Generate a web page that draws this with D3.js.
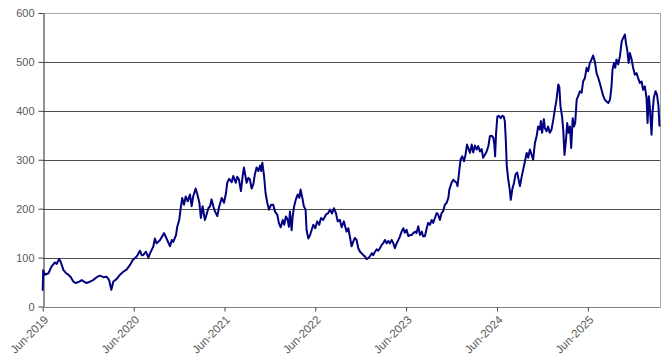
<!DOCTYPE html>
<html>
<head>
<meta charset="utf-8">
<script src="https://cdn.jsdelivr.net/npm/d3@7"></script>
<style>
  body { margin: 0; background: #fff; }
  svg { display: block; font-family: "Open Sans", "DejaVu Sans", sans-serif; }
</style>
</head>
<body>
<svg width="668" height="362"></svg>
<script>
// price series, split by year
var prices2019 = [
  ["2019-06-01",32],["2019-06-03",74],["2019-06-10",65],["2019-06-24",68],["2019-07-07",82],["2019-07-20",90],
  ["2019-07-27",87],["2019-08-06",97],["2019-08-12",92],["2019-08-23",75],["2019-09-03",68],["2019-09-12",65],
  ["2019-09-22",60],["2019-10-02",51],["2019-10-13",48],["2019-10-26",51],["2019-11-05",54],["2019-11-14",51],
  ["2019-11-25",48],["2019-12-08",51],["2019-12-21",54]
];
var prices2020 = [
  ["2020-01-04",60],["2020-01-17",63],["2020-01-31",60],["2020-02-13",61],["2020-02-23",54],["2020-03-03",34],
  ["2020-03-11",51],["2020-03-24",56],["2020-04-07",65],["2020-04-20",71],["2020-05-04",76],["2020-05-17",85],
  ["2020-05-28",95],["2020-06-13",102],["2020-06-26",114],["2020-07-03",105],["2020-07-09",105],["2020-07-20",112],
  ["2020-07-30",100],["2020-08-05",108],["2020-08-19",123],["2020-08-25",139],["2020-09-01",129],["2020-09-15",136],
  ["2020-10-01",150],["2020-10-11",139],["2020-10-25",123],["2020-11-01",136],["2020-11-07",132],["2020-11-18",146],
  ["2020-11-23",163],["2020-12-01",177],["2020-12-07",201],["2020-12-13",222],["2020-12-20",208],["2020-12-27",225]
];
var prices2021 = [
  ["2021-01-04",215],["2021-01-13",229],["2021-01-20",205],["2021-01-26",225],["2021-02-05",241],["2021-02-12",229],
  ["2021-02-20",212],["2021-02-26",181],["2021-03-05",205],["2021-03-14",177],["2021-03-21",188],["2021-03-28",201],
  ["2021-04-04",205],["2021-04-10",219],["2021-04-17",205],["2021-04-24",194],["2021-05-03",185],["2021-05-11",205],
  ["2021-05-21",222],["2021-05-30",212],["2021-06-07",232],["2021-06-12",253],["2021-06-20",261],["2021-06-30",254],
  ["2021-07-06",267],["2021-07-16",253],["2021-07-22",265],["2021-07-29",260],["2021-08-06",236],["2021-08-13",267],
  ["2021-08-18",284],["2021-08-22",273],["2021-08-29",253],["2021-09-05",263],["2021-09-11",260],["2021-09-18",241],
  ["2021-09-25",250],["2021-10-01",270],["2021-10-08",284],["2021-10-15",277],["2021-10-22",288],["2021-10-26",277],
  ["2021-10-31",294],["2021-11-07",267],["2021-11-13",232],["2021-11-20",212],["2021-11-27",198],["2021-12-05",208],
  ["2021-12-14",208],["2021-12-21",194],["2021-12-30",188]
];
var prices2022 = [
  ["2022-01-06",170],["2022-01-13",162],["2022-01-21",177],["2022-01-27",167],["2022-02-03",184],["2022-02-10",177],
  ["2022-02-15",163],["2022-02-19",194],["2022-02-26",156],["2022-03-02",184],["2022-03-08",205],["2022-03-15",219],
  ["2022-03-22",229],["2022-03-29",222],["2022-04-03",239],["2022-04-10",222],["2022-04-16",205],["2022-04-23",198],
  ["2022-04-27",156],["2022-05-04",139],["2022-05-11",146],["2022-05-17",156],["2022-05-24",167],["2022-06-01",160],
  ["2022-06-09",174],["2022-06-17",167],["2022-06-24",181],["2022-07-03",177],["2022-07-14",188],["2022-07-23",191],
  ["2022-07-30",198],["2022-08-07",190],["2022-08-15",201],["2022-08-23",191],["2022-08-30",174],["2022-09-08",177],
  ["2022-09-15",162],["2022-09-24",174],["2022-10-05",153],["2022-10-12",160],["2022-10-18",143],["2022-10-25",123],
  ["2022-11-01",133],["2022-11-07",140],["2022-11-14",136],["2022-11-21",119],["2022-11-28",112],["2022-12-04",109],
  ["2022-12-11",105],["2022-12-18",102],["2022-12-24",97],["2022-12-31",99]
];
var prices2023 = [
  ["2023-01-07",103],["2023-01-14",109],["2023-01-20",105],["2023-01-27",112],["2023-02-03",117],["2023-02-09",114],
  ["2023-02-16",119],["2023-02-23",126],["2023-03-01",129],["2023-03-08",136],["2023-03-15",129],["2023-03-22",134],
  ["2023-03-28",129],["2023-04-04",136],["2023-04-11",129],["2023-04-17",119],["2023-04-24",129],["2023-05-01",136],
  ["2023-05-07",143],["2023-05-14",153],["2023-05-21",160],["2023-05-27",151],["2023-06-03",157],["2023-06-10",144],
  ["2023-06-17",146],["2023-06-23",146],["2023-06-30",150],["2023-07-07",153],["2023-07-13",150],["2023-07-20",164],
  ["2023-07-27",146],["2023-08-03",153],["2023-08-09",143],["2023-08-16",144],["2023-08-23",160],["2023-08-29",171],
  ["2023-09-05",167],["2023-09-12",177],["2023-09-18",171],["2023-09-25",181],["2023-10-02",191],["2023-10-08",188],
  ["2023-10-15",177],["2023-10-22",191],["2023-10-28",195],["2023-11-04",208],["2023-11-11",212],["2023-11-18",222],
  ["2023-11-22",239],["2023-12-01",253],["2023-12-08",259],["2023-12-14",256],["2023-12-21",253],["2023-12-25",246],
  ["2023-12-31",273]
];
var prices2024 = [
  ["2024-01-06",300],["2024-01-13",307],["2024-01-20",297],["2024-01-26",310],["2024-02-01",331],["2024-02-06",324],
  ["2024-02-13",314],["2024-02-20",331],["2024-02-26",315],["2024-03-04",329],["2024-03-11",321],["2024-03-17",328],
  ["2024-03-24",317],["2024-03-31",322],["2024-04-06",304],["2024-04-13",310],["2024-04-20",317],["2024-04-27",328],
  ["2024-05-03",348],["2024-05-10",349],["2024-05-17",345],["2024-05-21",331],["2024-05-24",307],["2024-05-28",355],
  ["2024-06-02",388],["2024-06-08",390],["2024-06-15",385],["2024-06-22",390],["2024-06-28",388],["2024-07-02",379],
  ["2024-07-06",341],["2024-07-10",287],["2024-07-16",259],["2024-07-22",239],["2024-07-26",218],["2024-08-01",239],
  ["2024-08-08",253],["2024-08-14",270],["2024-08-21",274],["2024-08-25",263],["2024-09-01",246],["2024-09-08",266],
  ["2024-09-14",280],["2024-09-21",297],["2024-09-28",314],["2024-10-04",304],["2024-10-11",321],["2024-10-18",310],
  ["2024-10-24",300],["2024-10-31",334],["2024-11-07",348],["2024-11-13",368],["2024-11-20",362],["2024-11-24",379],
  ["2024-11-29",355],["2024-12-06",383],["2024-12-10",365],["2024-12-17",358],["2024-12-23",368],["2024-12-30",355]
];
var prices2025 = [
  ["2025-01-06",362],["2025-01-13",382],["2025-01-19",402],["2025-01-26",423],["2025-02-02",454],["2025-02-06",450],
  ["2025-02-11",409],["2025-02-17",389],["2025-02-22",361],["2025-02-27",310],["2025-03-05",341],["2025-03-10",375],
  ["2025-03-15",355],["2025-03-21",368],["2025-03-26",324],["2025-04-01",385],["2025-04-06",368],["2025-04-11",375],
  ["2025-04-17",423],["2025-04-23",430],["2025-04-30",440],["2025-05-07",437],["2025-05-13",460],["2025-05-20",467],
  ["2025-05-27",488],["2025-06-02",481],["2025-06-09",498],["2025-06-16",505],["2025-06-22",513],["2025-06-29",501],
  ["2025-07-06",477],["2025-07-13",467],["2025-07-19",457],["2025-07-26",443],["2025-08-02",430],["2025-08-08",423],
  ["2025-08-15",419],["2025-08-22",416],["2025-08-29",423],["2025-09-04",450],["2025-09-08",484],["2025-09-14",498],
  ["2025-09-19",488],["2025-09-24",505],["2025-10-01",495],["2025-10-08",512],["2025-10-15",542],["2025-10-21",549],
  ["2025-10-28",556],["2025-11-01",539],["2025-11-06",525],["2025-11-12",498],["2025-11-17",518],["2025-11-24",505],
  ["2025-11-30",488],["2025-12-07",474],["2025-12-14",477],["2025-12-20",467],["2025-12-27",457]
];
var prices2026 = [
  ["2026-01-03",460],["2026-01-09",443],["2026-01-16",450],["2026-01-23",426],["2026-01-27",375],["2026-02-01",430],
  ["2026-02-05",409],["2026-02-12",351],["2026-02-16",396],["2026-02-21",426],["2026-02-28",440],["2026-03-06",433],
  ["2026-03-12",409],["2026-03-16",368]
];

var yTicks = [0, 100, 200, 300, 400, 500, 600];
var xTickYears = [2019, 2020, 2021, 2022, 2023, 2024, 2025];

var parseDate = d3.timeParse("%Y-%m-%d");
var data = [].concat(prices2019, prices2020, prices2021, prices2022, prices2023, prices2024, prices2025, prices2026)
  .map(function(d) { return { date: parseDate(d[0]), value: d[1] }; });

// plot box (note: "top" is reserved on window, so prefixed names)
var svg = d3.select("svg"),
    plotLeft = 42.7, plotRight = 659.5, plotTop = 13, plotBottom = 306.5;

var x = d3.scaleTime()
    .domain(d3.extent(data, function(d) { return d.date; }))
    .range([plotLeft, plotRight]);

var y = d3.scaleLinear()
    .domain([0, 600])
    .range([plotBottom, plotTop]);

function crisp(v) { return Math.round(v) + 0.5; }

//gridlines (the top one is the light plot border)
svg.append("g")
  .selectAll("line")
  .data(yTicks.filter(function(d) { return d > 0; }))
  .enter().append("line")
    .attr("x1", crisp(plotLeft))
    .attr("x2", crisp(plotRight))
    .attr("y1", function(d) { return crisp(y(d)); })
    .attr("y2", function(d) { return crisp(y(d)); })
    .attr("stroke", function(d) { return d === 600 ? "#a6a6a6" : "#4d4d4d"; })
    .attr("stroke-width", 1);

//right border
svg.append("line")
    .attr("x1", crisp(plotRight)).attr("x2", crisp(plotRight))
    .attr("y1", crisp(y(600))).attr("y2", crisp(y(0)))
    .attr("stroke", "#a6a6a6");

//x axis
var xAxis = svg.append("g")
    .attr("transform", "translate(0," + crisp(y(0)) + ")")
    .call(d3.axisBottom(x)
      .tickValues(xTickYears.map(function(yr) { return new Date(yr, 5, 1); }))
      .tickFormat(d3.timeFormat("%b-%Y"))
      .tickSize(4)
      .tickSizeOuter(0));
xAxis.select(".domain").attr("stroke", "#7f7f7f").attr("d", "M" + crisp(plotLeft) + ",0H" + crisp(plotRight));
xAxis.selectAll(".tick line").attr("stroke", "#404040");
xAxis.selectAll(".tick text")
    .attr("fill", "#595959")
    .attr("font-size", 11.5)
    .attr("text-anchor", "end")
    .attr("dy", "0.35em")
    .attr("transform", "translate(3,10) rotate(-45)")
    .attr("x", 0).attr("y", 0);

//y axis
var yAxis = svg.append("g")
    .attr("transform", "translate(" + crisp(plotLeft) + ",0)")
    .call(d3.axisLeft(y)
      .tickValues(yTicks)
      .tickSize(5)
      .tickPadding(4)
      .tickSizeOuter(0));
yAxis.select(".domain").attr("stroke", "#262626");
yAxis.selectAll(".tick line").attr("stroke", "#404040");
yAxis.selectAll(".tick text")
    .attr("fill", "#595959")
    .attr("font-size", 11);

//price line
var line = d3.line()
    .x(function(d) { return x(d.date); })
    .y(function(d) { return y(d.value); });

svg.append("path")
    .datum(data)
    .attr("fill", "none")
    .attr("stroke", "#000080")
    .attr("stroke-width", 2)
    .attr("stroke-linejoin", "round")
    .attr("d", line);
</script>
</body>
</html>
